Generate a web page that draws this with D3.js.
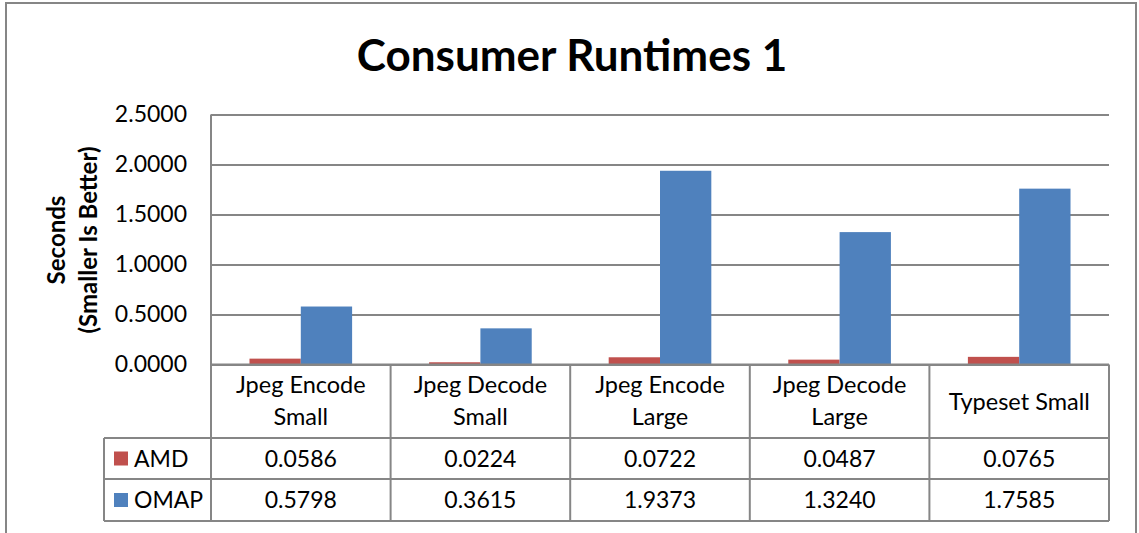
<!DOCTYPE html>
<html>
<head>
<meta charset="utf-8">
<script src="https://cdn.jsdelivr.net/npm/d3@7"></script>
<style>
  body { margin: 0; background: #fff; }
  text { font-family: Lato, "Open Sans", sans-serif; fill: #000; }
</style>
</head>
<body>
<div id="chart"></div>
<script>
const categories = [["Jpeg Encode", "Small"], ["Jpeg Decode", "Small"], ["Jpeg Encode", "Large"], ["Jpeg Decode", "Large"], ["Typeset Small"]];
const seriesNames = ["AMD", "OMAP"];
const amdValues = [0.0586, 0.0224, 0.0722, 0.0487, 0.0765];
const omapValues = [0.5798, 0.3615, 1.9373, 1.3240, 1.7585];
const yTicks = [0, 0.5, 1.0, 1.5, 2.0, 2.5];
const colors = ["#C0504D", "#4F81BD"];

const width = 1139, height = 533;
const margin = { left: 211, right: 1109, top: 114.5, zero: 364.5 };
const rowAmd = 438, rowOmap = 479, rowEnd = 521, legendLeft = 104;
const grey = "#868686";

const svg = d3.select("#chart").append("svg")
    .attr("width", width)
    .attr("height", height);

// outer chart frame
svg.append("rect")
    .attr("x", 6).attr("y", 3)
    .attr("width", 1130).attr("height", 600)
    .attr("fill", "none")
    .attr("stroke", grey)
    .attr("stroke-width", 2);

svg.append("text")
    .attr("x", 572).attr("y", 71)
    .attr("text-anchor", "middle")
    .style("font-size", "44px")
    .style("font-weight", "bold")
    .text("Consumer Runtimes 1");

const y = d3.scaleLinear().domain([0, 2.5]).range([margin.zero, margin.top]);
const x0 = d3.scaleBand().domain(d3.range(categories.length)).range([margin.left, margin.right]);
const x1 = d3.scaleBand().domain(seriesNames).range([0, x0.bandwidth()]).paddingOuter(0.75);

// gridlines + ticks
const yAxis = svg.append("g")
    .attr("transform", `translate(${margin.left},0)`)
    .call(d3.axisLeft(y).tickValues(yTicks).tickSize(-(margin.right - margin.left)).tickPadding(24).tickFormat(d3.format(".4f")));
yAxis.select(".domain").remove();
yAxis.selectAll(".tick line").attr("stroke", grey).attr("stroke-width", 2);
yAxis.selectAll(".tick text")
    .attr("fill", "#000")
    .style("font-size", "23px")
    .style("font-family", "Lato, sans-serif");

svg.append("line")
    .attr("x1", margin.left).attr("x2", margin.left)
    .attr("y1", margin.top).attr("y2", rowEnd)
    .attr("stroke", grey).attr("stroke-width", 2);

// y label
const yl = svg.append("text")
    .attr("transform", "translate(0,240) rotate(-90)")
    .attr("text-anchor", "middle")
    .style("font-size", "24px")
    .style("font-weight", "bold");
yl.append("tspan").attr("x", 0).attr("y", 65).text("Seconds");
yl.append("tspan").attr("x", 0).attr("y", 97).text("(Smaller Is Better)");

// bars
const allValues = [amdValues, omapValues];
seriesNames.forEach(function(s, si) {
    svg.append("g")
        .selectAll("rect")
        .data(allValues[si])
        .enter().append("rect")
            .attr("x", function(d, i) { return x0(i) + x1(s); })
            .attr("y", function(d) { return y(d); })
            .attr("width", x1.bandwidth())
            .attr("height", function(d) { return y(0) - y(d); })
            .attr("fill", colors[si]);
});

// data table
const table = svg.append("g").attr("stroke", grey).attr("stroke-width", 2);
table.append("line").attr("x1", margin.left).attr("x2", margin.right).attr("y1", margin.zero).attr("y2", margin.zero);
[rowAmd, rowOmap, rowEnd].forEach(function(r) {
    table.append("line").attr("x1", legendLeft).attr("x2", margin.right).attr("y1", r).attr("y2", r);
});
table.append("line").attr("x1", legendLeft).attr("x2", legendLeft).attr("y1", rowAmd).attr("y2", rowEnd);
d3.range(categories.length).forEach(function(i) {
    const xe = x0(i) + x0.bandwidth();
    table.append("line").attr("x1", xe).attr("x2", xe).attr("y1", margin.zero).attr("y2", rowEnd);
});

// header labels
categories.forEach(function(c, i) {
    const cx = x0(i) + x0.bandwidth() / 2;
    const t = svg.append("text")
        .attr("text-anchor", "middle")
        .style("font-size", "23.5px");
    if (c.length === 2) {
        t.append("tspan").attr("x", cx).attr("y", 393).text(c[0]);
        t.append("tspan").attr("x", cx).attr("y", 425).text(c[1]);
    } else {
        t.append("tspan").attr("x", cx).attr("y", 410).text(c[0]);
    }
});

// value rows with legend keys
const rowsY = [rowAmd, rowOmap];
seriesNames.forEach(function(s, si) {
    const top = rowsY[si];
    const bottom = si === 0 ? rowOmap : rowEnd;
    const mid = (top + bottom) / 2;
    svg.append("rect")
        .attr("x", 114).attr("y", mid - 7)
        .attr("width", 14).attr("height", 14)
        .attr("fill", colors[si]);
    svg.append("text")
        .attr("x", 134).attr("y", mid + 8)
        .style("font-size", "23px")
        .text(s);
    allValues[si].forEach(function(v, i) {
        svg.append("text")
            .attr("x", x0(i) + x0.bandwidth() / 2)
            .attr("y", mid + 8)
            .attr("text-anchor", "middle")
            .style("font-size", "23px")
            .text(d3.format(".4f")(v));
    });
});
</script>
</body>
</html>
